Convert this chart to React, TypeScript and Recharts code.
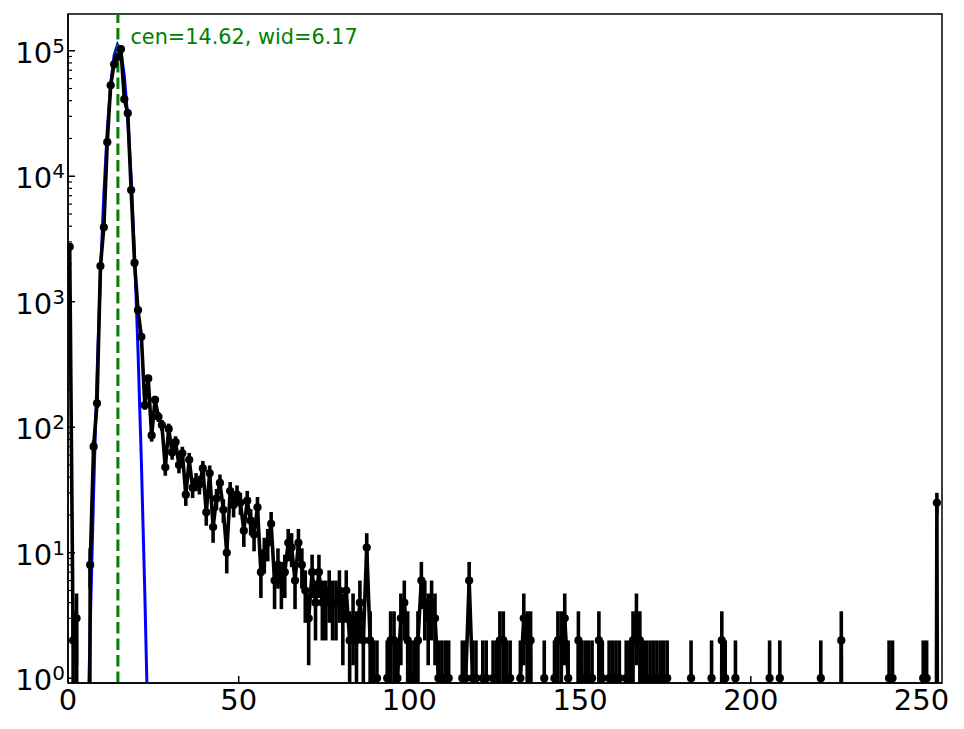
import React from 'react';
import { ComposedChart, Line, XAxis, YAxis, ErrorBar, ReferenceLine, ReferenceArea } from 'recharts';

// Histogram counts per bin (bin i spans [i, i+1))
const counts = [
  2742, 2, 3, 0, 0, 0, 8, 70, 155, 1925,
  3918, 18700, 53000, 78000, 89000, 103000, 41100, 31800, 7760, 2040,
  856, 525, 150, 245, 86, 165, 121, 104, 48, 97,
  63, 76, 50, 62, 29, 55, 33, 37, 35, 47,
  21, 43, 16, 27, 36, 22, 10, 31, 24, 29,
  25, 15, 26, 18, 14, 23, 7, 10, 12, 17,
  6, 8, 6, 7, 12, 11, 6, 12, 8, 5,
  3, 7, 4, 7, 4, 4, 5, 4, 4, 5,
  3, 5, 2, 3, 2, 4, 2, 11, 2, 1,
  1, 0, 0, 1, 2, 2, 1, 3, 4, 2,
  1, 1, 2, 6, 4, 3, 4, 3, 1, 1,
  1, 1, 0, 0, 0, 1, 1, 6, 1, 1,
  0, 1, 1, 0, 1, 1, 2, 2, 1, 1,
  0, 0, 1, 3, 2, 2, 0, 0, 0, 1,
  0, 0, 1, 2, 2, 3, 1, 0, 0, 2,
  1, 1, 1, 1, 0, 2, 1, 0, 1, 1,
  1, 1, 0, 1, 1, 2, 3, 2, 1, 1,
  1, 1, 1, 1, 1, 1, 0, 0, 0, 0,
  0, 0, 1, 0, 0, 0, 0, 0, 1, 0,
  0, 2, 1, 0, 0, 1, 0, 0, 0, 0,
  0, 0, 0, 0, 0, 1, 0, 0, 1, 0,
  0, 0, 0, 0, 0, 0, 0, 0, 0, 0,
  1, 0, 0, 0, 0, 0, 2, 0, 0, 0,
  0, 0, 0, 0, 0, 0, 0, 0, 0, 0,
  1, 1, 0, 0, 0, 0, 0, 0, 0, 0,
  1, 1, 0, 0, 25, 0,
];

// Gaussian fit evaluated at bin centres (first fit bin = 4)
const fitFirstBin = 4;
const fitValues = [
  0.007, 0.157, 2.56, 30.2, 259, 1598, 7153, 23130, 54060, 91390,
  111740, 98790, 63160, 29200, 9766, 2360, 412, 52.1, 4.76, 0.316, 0.015,
];

const fitCenter = 14.62;
const fitWidth = 6.17;

const xTicks = [0, 50, 100, 150, 200, 250];
const yMajorTicks = [1, 10, 100, 1000, 10000, 100000];
const yMinorSteps = [2, 3, 4, 5, 6, 7, 8, 9];

const X_DOMAIN: [number, number] = [0, 256];
const Y_DOMAIN: [number, number] = [0.916, 196300];
const ZERO_FLOOR = 1e-10;

const yTicks = [
  ...yMajorTicks,
  ...yMajorTicks.flatMap((d) => yMinorSteps.map((m) => m * d)).filter((v) => v < Y_DOMAIN[1]),
].sort((a, b) => a - b);

const rows = counts.map((c, i) => {
  const k = i - fitFirstBin;
  const fit = k >= 0 && k < fitValues.length ? fitValues[k] : undefined;
  if (c > 0) {
    const sd = Math.sqrt(c);
    const lo = Math.max(c - sd, Y_DOMAIN[0]);
    return { x: i + 0.5, y: c, err: [c - lo, sd], fit };
  }
  return { x: i + 0.5, y: ZERO_FLOOR, err: null, fit };
});

const FONT = 'DejaVu Sans';

const YTick = (props: any) => {
  const { x, y, payload } = props;
  const v = payload.value as number;
  const lg = Math.log10(v);
  const e = Math.round(lg);
  const major = Math.abs(lg - e) < 1e-6;
  return (
    <g>
      <line x1={x} x2={x + (major ? 7 : 4)} y1={y} y2={y} stroke="#000" strokeWidth={major ? 1.5 : 1.2} />
      {major && (
        <text x={x - 3} y={y + 12} textAnchor="end" fontFamily={FONT} fontSize={29} fill="#000">
          10
          <tspan dy={-10} fontSize={20}>
            {e}
          </tspan>
        </text>
      )}
    </g>
  );
};

const XTick = (props: any) => {
  const { x, y, payload } = props;
  return (
    <g>
      <line x1={x} x2={x} y1={y} y2={y - 7} stroke="#000" strokeWidth={1.5} />
      <text x={x} y={y + 27} textAnchor="middle" fontFamily={FONT} fontSize={29} fill="#000">
        {payload.value}
      </text>
    </g>
  );
};

const FitLabel = (props: any) => {
  const vb = props.viewBox || { x: 0, y: 0 };
  return (
    <text x={vb.x + 12.5} y={vb.y + 30} fontFamily={FONT} fontSize={20.8} fill="#008000">
      {`cen=${fitCenter.toFixed(2)}, wid=${fitWidth.toFixed(2)}`}
    </text>
  );
};

export default function App() {
  return (
    <div style={{ position: 'absolute', left: 0, top: 0, width: 964, height: 729, background: '#fff' }}>
      <style>{`html,body{margin:0;padding:0;overflow:hidden;background:#fff;}`}</style>
      <ComposedChart
        width={964}
        height={729}
        data={rows}
        margin={{ top: 14, right: 22, left: 0, bottom: 0 }}
      >
        <XAxis
          type="number"
          dataKey="x"
          domain={X_DOMAIN}
          ticks={xTicks}
          allowDataOverflow
          interval={0}
          tickLine={false}
          tickSize={0}
          tickMargin={0}
          height={46}
          axisLine={{ stroke: '#000', strokeWidth: 1.5 }}
          tick={<XTick />}
        />
        <YAxis
          type="number"
          scale="log"
          domain={Y_DOMAIN}
          ticks={yTicks}
          allowDataOverflow
          interval={0}
          tickLine={false}
          tickSize={0}
          tickMargin={0}
          width={68}
          axisLine={{ stroke: '#000', strokeWidth: 1.5 }}
          tick={<YTick />}
        />
        <ReferenceArea
          x1={X_DOMAIN[0]}
          x2={X_DOMAIN[1]}
          y1={Y_DOMAIN[0]}
          y2={Y_DOMAIN[1]}
          fill="none"
          fillOpacity={0}
          stroke="#000"
          strokeWidth={1.5}
          ifOverflow="visible"
        />
        <Line
          dataKey="fit"
          type="linear"
          stroke="#0000ff"
          strokeWidth={3}
          dot={false}
          activeDot={false}
          isAnimationActive={false}
        />
        <Line
          dataKey="y"
          type="linear"
          stroke="#000"
          strokeWidth={3.6}
          dot={{ r: 4.1, fill: '#000', stroke: 'none' }}
          activeDot={false}
          isAnimationActive={false}
        >
          <ErrorBar dataKey="err" width={0} stroke="#000" strokeWidth={3.6} direction="y" isAnimationActive={false} />
        </Line>
        <ReferenceLine
          x={fitCenter}
          stroke="#008000"
          strokeWidth={3}
          strokeDasharray="11.5 5"
          label={<FitLabel />}
        />
      </ComposedChart>
    </div>
  );
}
